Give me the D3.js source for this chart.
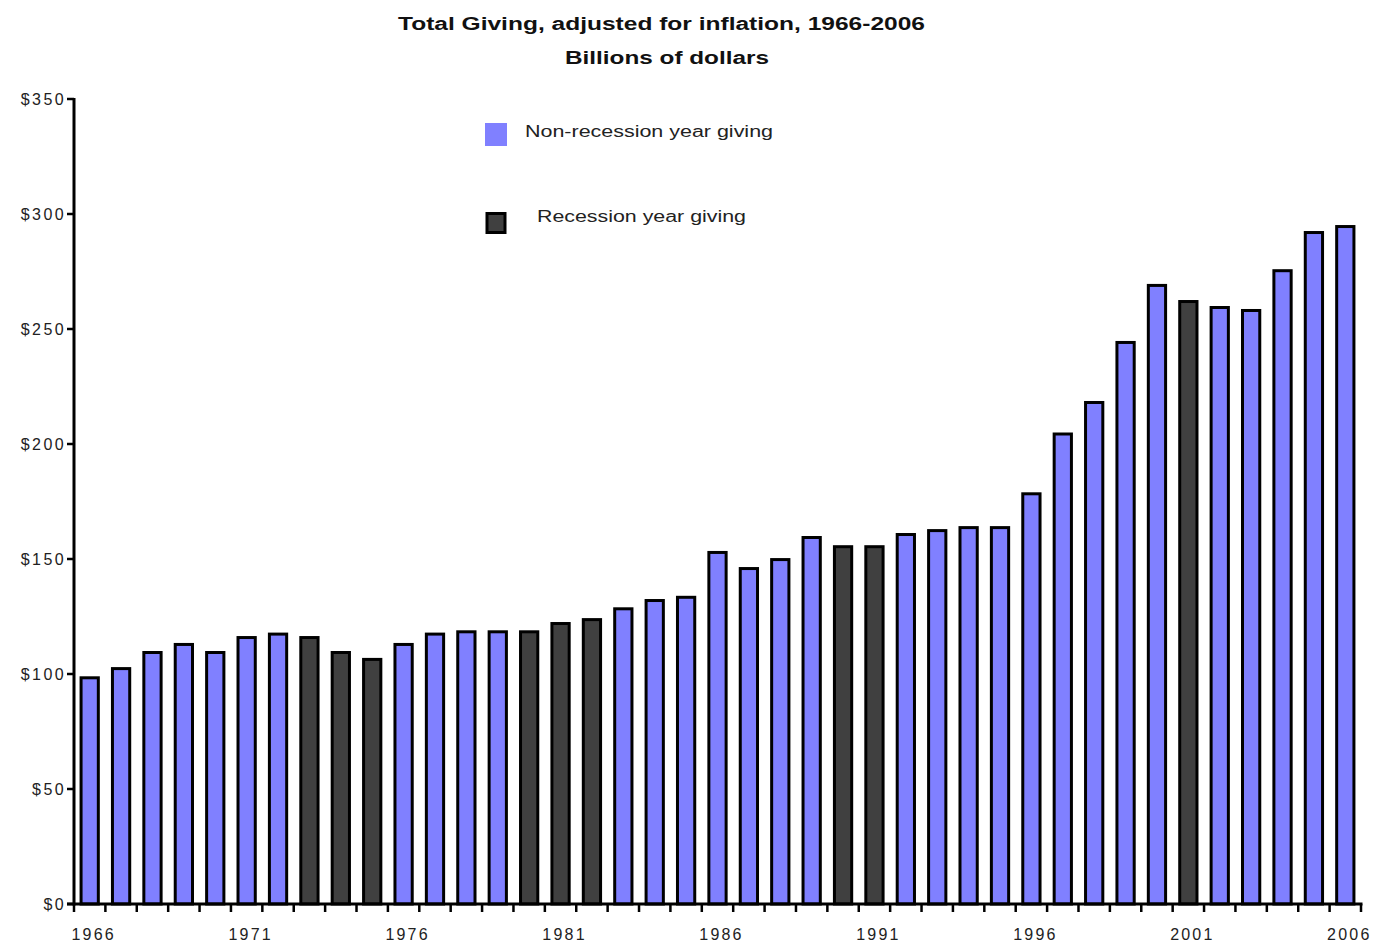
<!DOCTYPE html>
<html><head><meta charset="utf-8">
<script src="https://cdn.jsdelivr.net/npm/d3@7"></script>
<style>
html,body{margin:0;padding:0;background:#fff;}
text{font-family:"Liberation Sans",Arial,sans-serif;}
</style></head>
<body>
<svg id="chart" width="1380" height="946"></svg>
<script>
const years = d3.range(1966, 2007);
const giving = [99, 103, 110, 113.5, 110, 116.5, 118, 116.5, 110, 107,
  113.5, 118, 119, 119, 119, 122.6, 124.3, 129, 132.6, 134,
  153.5, 146.5, 150.4, 160, 156, 156, 161.3, 163, 164.3, 164.3,
  179, 205, 218.7, 244.8, 269.6, 262.6, 260, 258.7, 276, 292.6, 295.2];
const recessionYears = [1973, 1974, 1975, 1980, 1981, 1982, 1990, 1991, 2001];
const yTicks = [0, 50, 100, 150, 200, 250, 300, 350];
const xLabelYears = [1966, 1971, 1976, 1981, 1986, 1991, 1996, 2001, 2006];
const seriesNames = ["Non-recession year giving", "Recession year giving"];
const colors = {normal: "#8080ff", recession: "#404040"};

const svg = d3.select("#chart");
const mLeft = 74, mRight = 1361, mTop = 99, mBottom = 904;

const x = d3.scaleBand().domain(years).range([mLeft, mRight]).paddingInner(0.45).paddingOuter(0.225);
const y = d3.scaleLinear().domain([0, 350]).range([mBottom, mTop]);

// bars
svg.append("g").selectAll("rect").data(years).join("rect")
  .attr("x", d => x(d))
  .attr("width", x.bandwidth())
  .attr("y", (d, i) => y(giving[i]) + 1.5)
  .attr("height", (d, i) => mBottom - y(giving[i]) - 1.5)
  .attr("fill", d => recessionYears.includes(d) ? colors.recession : colors.normal)
  .attr("stroke", "#000").attr("stroke-width", 3);

// y axis
const gy = svg.append("g");
gy.append("line").attr("x1", mLeft).attr("x2", mLeft).attr("y1", mTop - 1).attr("y2", mBottom + 1.5)
  .attr("stroke", "#000").attr("stroke-width", 3);
gy.selectAll("line.t").data(yTicks).join("line").attr("class", "t")
  .attr("x1", mLeft - 7).attr("x2", mLeft).attr("y1", d => y(d)).attr("y2", d => y(d))
  .attr("stroke", "#000").attr("stroke-width", 2.5);
gy.selectAll("text").data(yTicks).join("text")
  .attr("x", mLeft - 8).attr("y", d => y(d) + 6)
  .attr("text-anchor", "end").attr("font-size", 16).attr("letter-spacing", 2.4)
  .attr("fill", "#222")
  .text(d => "$" + d);

// x axis
const gx = svg.append("g");
gx.append("line").attr("x1", mLeft - 7).attr("x2", mRight + 1.5).attr("y1", mBottom).attr("y2", mBottom)
  .attr("stroke", "#000").attr("stroke-width", 3);
const step = x.step();
gx.selectAll("line.t").data(d3.range(years.length + 1)).join("line").attr("class", "t")
  .attr("x1", i => mLeft + i * step).attr("x2", i => mLeft + i * step)
  .attr("y1", mBottom).attr("y2", mBottom + 8)
  .attr("stroke", "#000").attr("stroke-width", 2.5);
gx.selectAll("text").data(xLabelYears).join("text")
  .attr("x", d => x(d) + x.bandwidth() / 2 + 4).attr("y", 940)
  .attr("text-anchor", "middle").attr("font-size", 16).attr("letter-spacing", 2.2)
  .attr("fill", "#222")
  .text(d => d);

// titles
svg.append("text").attr("x", 398).attr("y", 30).attr("font-size", 18).attr("font-weight", "bold")
  .attr("textLength", 527).attr("lengthAdjust", "spacingAndGlyphs").attr("fill", "#111")
  .text("Total Giving, adjusted for inflation, 1966-2006");
svg.append("text").attr("x", 565).attr("y", 64).attr("font-size", 18).attr("font-weight", "bold")
  .attr("textLength", 204).attr("lengthAdjust", "spacingAndGlyphs").attr("fill", "#111")
  .text("Billions of dollars");

// legend
svg.append("rect").attr("x", 485).attr("y", 123).attr("width", 22).attr("height", 23).attr("fill", colors.normal);
svg.append("text").attr("x", 525).attr("y", 137).attr("font-size", 16)
  .attr("textLength", 248).attr("lengthAdjust", "spacingAndGlyphs").attr("fill", "#222")
  .text(seriesNames[0]);
svg.append("rect").attr("x", 487).attr("y", 213.5).attr("width", 18).attr("height", 19)
  .attr("fill", colors.recession).attr("stroke", "#000").attr("stroke-width", 3);
svg.append("text").attr("x", 537).attr("y", 222).attr("font-size", 16)
  .attr("textLength", 209).attr("lengthAdjust", "spacingAndGlyphs").attr("fill", "#222")
  .text(seriesNames[1]);
</script>
</body></html>
